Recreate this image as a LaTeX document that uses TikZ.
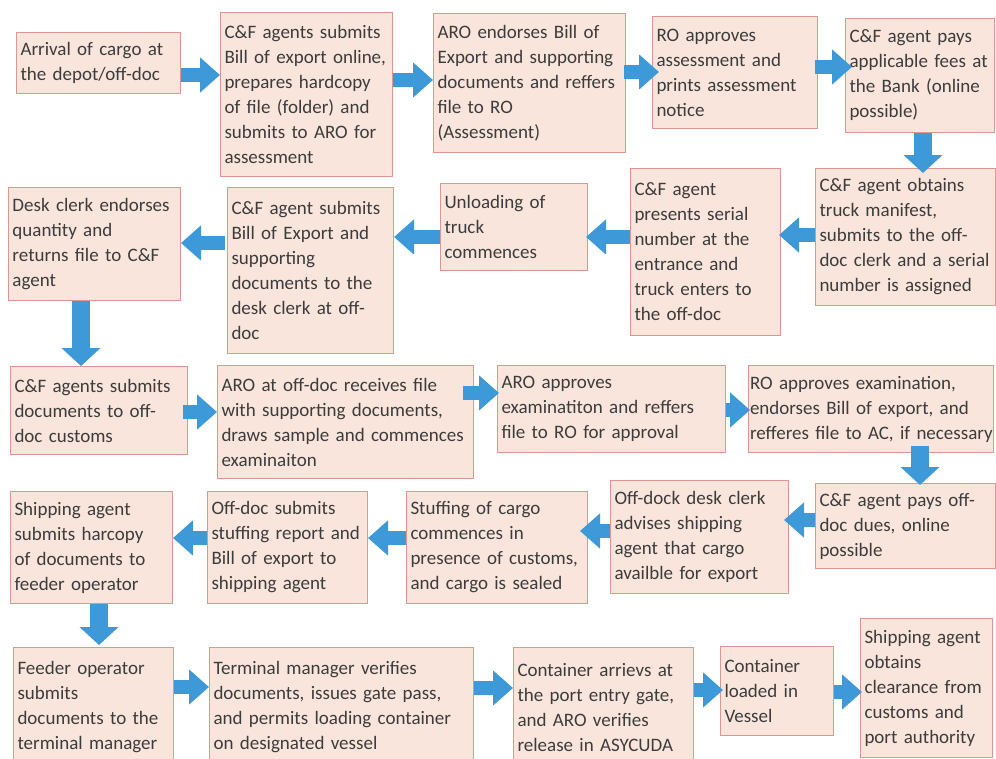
\documentclass[tikz,border=0pt]{standalone}
\usepackage{fontspec}
\setmainfont{Carlito}
\usetikzlibrary{arrows.meta,calc}
\definecolor{boxfill}{RGB}{249,229,220}
\definecolor{boxborder}{RGB}{222,150,145}
\definecolor{arrowblue}{RGB}{61,153,216}
\definecolor{textgray}{RGB}{60,60,60}
\tikzset{
  box/.style={draw=boxborder, fill=boxfill, line width=1pt, anchor=north west,
    align=left, inner xsep=4pt, inner ysep=3pt,
    font=\fontsize{19}{25}\selectfont, text=textgray},
  harrow/.style={draw=arrowblue, line width=14pt, -{Triangle[length=20pt,width=34pt]}},
  varrow/.style={draw=arrowblue, line width=18pt, -{Triangle[length=18pt,width=38pt]}}
}
\begin{document}
\begin{tikzpicture}[x=1pt,y=-1pt]
\useasboundingbox (0,0) rectangle (996,758);
\clip (0,0) rectangle (996,758);
\fill[white] (0,0) rectangle (996,758);
% Row 1
\node[box, text width=156pt, minimum height=61pt] (b1) at (16,32) {Arrival of cargo at\\the depot/off-doc};
\node[box, text width=164pt, minimum height=164pt] (b2) at (220,12) {C\&F agents submits\\Bill of export online,\\prepares hardcopy\\of file (folder) and\\submits to ARO for\\assessment};
\node[box, text width=184pt, minimum height=139pt] (b3) at (433,13) {ARO endorses Bill of\\Export and supporting\\documents and reffers\\file to RO\\(Assessment)};
\node[box, text width=157pt, minimum height=112pt] (b4) at (652,16) {RO approves\\assessment and\\prints assessment\\notice};
\node[box, text width=141pt, minimum height=114pt] (b5) at (845,18) {C\&F agent pays\\applicable fees at\\the Bank (online\\possible)};
% Row 2
\node[box, text width=172pt, minimum height=137pt] (c5) at (815,168) {C\&F agent obtains\\truck manifest,\\submits to the off-\\doc clerk and a serial\\number is assigned};
\node[box, text width=142pt, minimum height=167pt] (c4) at (630,168) {C\&F agent\\presents serial\\number at the\\entrance and\\truck enters to\\the off-doc};
\node[box, text width=139pt, minimum height=87pt] (c3) at (440,183) {Unloading of\\truck\\commences};
\node[box, text width=158pt, minimum height=166pt] (c2) at (227,187) {C\&F agent submits\\Bill of Export and\\supporting\\documents to the\\desk clerk at off-\\doc};
\node[box, text width=164pt, minimum height=113pt] (c1) at (8,187) {Desk clerk endorses\\quantity and\\returns file to C\&F\\agent};
% Row 3
\node[box, text width=169pt, minimum height=88pt] (d1) at (10,366) {C\&F agents submits\\documents to off-\\doc customs};
\node[box, text width=248pt, minimum height=113pt] (d2) at (217,365) {ARO at off-doc receives file\\with supporting documents,\\draws sample and commences\\examinaiton};
\node[box, text width=220pt, minimum height=87pt] (d3) at (497,365) {ARO approves\\examinatiton and reffers\\file to RO for approval};
\node[box, text width=242pt, minimum height=87pt, inner xsep=1.5pt] (d4) at (748,365) {RO approves examination,\\endorses Bill of export, and\\\mbox{refferes file to AC, if necessary}};
% Row 4
\node[box, text width=172pt, minimum height=85pt] (e5) at (815,483) {C\&F agent pays off-\\doc dues, online\\possible};
\node[box, text width=170pt, minimum height=113pt] (e4) at (610,480) {Off-dock desk clerk\\advises shipping\\agent that cargo\\availble for export};
\node[box, text width=173pt, minimum height=112pt] (e3) at (406,491) {Stuffing of cargo\\commences in\\presence of customs,\\and cargo is sealed};
\node[box, text width=152pt, minimum height=112pt] (e2) at (207,491) {Off-doc submits\\stuffing report and\\Bill of export to\\shipping agent};
\node[box, text width=154pt, minimum height=112pt] (e1) at (10,491) {Shipping agent\\submits harcopy\\of documents to\\feeder operator};
% Row 5
\node[box, text width=152pt, minimum height=120pt] (f1) at (13,647) {Feeder operator\\submits\\documents to the\\terminal manager};
\node[box, text width=256pt, minimum height=120pt] (f2) at (209,647) {Terminal manager verifies\\documents, issues gate pass,\\and permits loading container\\on designated vessel};
\node[box, text width=172pt, minimum height=120pt] (f3) at (513,647) {Container arrievs at\\the port entry gate,\\and ARO verifies\\release in ASYCUDA};
\node[box, text width=105pt, minimum height=89pt] (f4) at (720,646) {Container\\loaded in\\Vessel};
\node[box, text width=124pt, minimum height=139pt] (f5) at (860,618) {Shipping agent\\obtains\\clearance from\\customs and\\port authority};
% Row 1 arrows
\draw[harrow] (b1.east |- 0,75) -- (b2.west |- 0,75);
\draw[harrow] (b2.east |- 0,80) -- (b3.west |- 0,80);
\draw[harrow] ($(b3.east |- 0,72)+(-2,0)$) -- ($(b4.west |- 0,72)+(7,0)$);
\draw[harrow] ($(b4.east |- 0,67)+(-3,0)$) -- ($(b5.west |- 0,67)+(7,0)$);
\draw[varrow] (b5.south -| 923,0) -- ($(c5.north -| 923,0)+(0,5)$);
% Row 2 arrows
\draw[harrow] (c5.west |- 0,235) -- ($(c4.east |- 0,235)+(-2,0)$);
\draw[harrow] (c4.west |- 0,237) -- ($(c3.east |- 0,237)+(-2,0)$);
\draw[harrow] (c3.west |- 0,237) -- (c2.east |- 0,237);
\draw[harrow] ($(c2.west |- 0,243)+(-2,0)$) -- (c1.east |- 0,243);
\draw[varrow] (c1.south -| 81,0) -- (d1.north -| 81,0);
% Row 3 arrows
\draw[harrow] ($(d1.east |- 0,412)+(-5,0)$) -- (d2.west |- 0,412);
\draw[harrow] ($(d2.east |- 0,393)+(-11,0)$) -- ($(d3.west |- 0,393)+(2,0)$);
\draw[harrow] (d3.east |- 0,410) -- ($(d4.west |- 0,410)+(2,0)$);
\draw[varrow] ($(d4.south -| 920,0)+(0,-7)$) -- ($(e5.north -| 920,0)+(0,2)$);
% Row 4 arrows
\draw[harrow] (e5.west |- 0,520) -- ($(e4.east |- 0,520)+(-5,0)$);
\draw[harrow] (e4.west |- 0,531) -- ($(e3.east |- 0,531)+(-8,0)$);
\draw[harrow] (e3.west |- 0,538) -- (e2.east |- 0,538);
\draw[harrow] (e2.west |- 0,538) -- (e1.east |- 0,538);
\draw[varrow] (e1.south -| 99,0) -- ($(f1.north -| 99,0)+(0,-2)$);
% Row 5 arrows
\draw[harrow] (f1.east |- 0,687) -- (f2.west |- 0,687);
\draw[harrow] (f2.east |- 0,688) -- (f3.west |- 0,688);
\draw[harrow] (f3.east |- 0,690) -- ($(f4.west |- 0,690)+(3,0)$);
\draw[harrow] (f4.east |- 0,692) -- ($(f5.west |- 0,692)+(2,0)$);
\end{tikzpicture}
\end{document}
